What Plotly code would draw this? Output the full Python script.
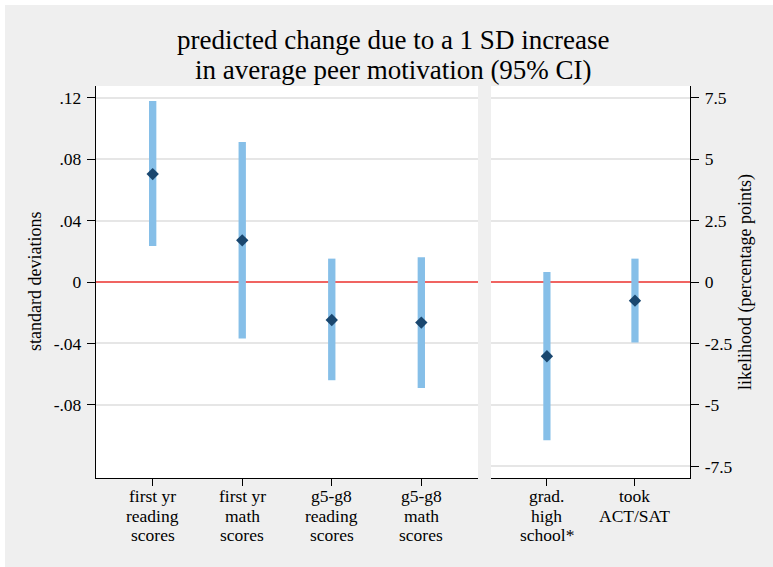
import plotly.graph_objects as go

# ---------------- data ----------------
left_labels = [["first yr", "reading", "scores"],
               ["first yr", "math", "scores"],
               ["g5-g8", "reading", "scores"],
               ["g5-g8", "math", "scores"]]
left_est = [0.0702, 0.0271, -0.0247, -0.0264]
left_lo = [0.0234, -0.0368, -0.0639, -0.0689]
left_hi = [0.1177, 0.0911, 0.0152, 0.0161]

right_labels = [["grad.", "high", "school*"],
                ["took", "ACT/SAT"]]
right_est = [-3.02, -0.76]
right_lo = [-6.43, -2.46]
right_hi = [0.41, 0.95]

left_tickvals = [0.12, 0.08, 0.04, 0, -0.04, -0.08]
left_ticktext = [".12", ".08", ".04", "0", "-.04", "-.08"]
right_tickvals = [7.5, 5, 2.5, 0, -2.5, -5, -7.5]
right_ticktext = ["7.5", "5", "2.5", "0", "-2.5", "-5", "-7.5"]

title_lines = ["predicted change due to a 1 SD increase",
               "in average peer motivation (95% CI)"]
left_ytitle = "standard deviations"
right_ytitle = "likelihood (percentage points)"

# ---------------- styles ----------------
FONT = "Liberation Serif"
BG = "#efefef"
BAR = "#86bfe8"
MARK = "#1a476f"
RED = "#f06461"
GRID = "#e6e6e6"

W, H = 773, 567
ML, MR, MT, MB = 96, 83, 86, 89
PW = W - ML - MR
PH = H - MT - MB

lx = list(range(1, len(left_est) + 1))
rx = list(range(1, len(right_est) + 1))

fig = go.Figure()

fig.add_trace(go.Bar(x=lx, y=[h - l for h, l in zip(left_hi, left_lo)], base=left_lo,
                     width=0.082, marker=dict(color=BAR, line=dict(width=0)),
                     xaxis="x", yaxis="y", hoverinfo="skip", showlegend=False))
fig.add_trace(go.Scatter(x=lx, y=left_est, mode="markers",
                         marker=dict(symbol="diamond", size=9.5, color=MARK, line=dict(width=0)),
                         xaxis="x", yaxis="y", showlegend=False))
fig.add_trace(go.Bar(x=rx, y=[h - l for h, l in zip(right_hi, right_lo)], base=right_lo,
                     width=0.082, marker=dict(color=BAR, line=dict(width=0)),
                     xaxis="x2", yaxis="y2", hoverinfo="skip", showlegend=False))
fig.add_trace(go.Scatter(x=rx, y=right_est, mode="markers",
                         marker=dict(symbol="diamond", size=9.5, color=MARK, line=dict(width=0)),
                         xaxis="x2", yaxis="y2", showlegend=False))

tickfont = dict(family=FONT, size=17.5, color="black")

xcommon = dict(showgrid=False, zeroline=False, showline=True, linecolor="black", linewidth=1.3,
               ticks="outside", ticklen=7, tickcolor="black", tickwidth=1.2,
               showticklabels=False, fixedrange=True)
ycommon = dict(showgrid=True, gridcolor=GRID, gridwidth=1.5,
               zeroline=True, zerolinecolor=RED, zerolinewidth=1.6,
               showline=True, linecolor="black", linewidth=1.3,
               ticks="outside", ticklen=8, tickcolor="black", tickwidth=1.2,
               tickfont=tickfont, ticklabelstandoff=2, fixedrange=True)

left_end = (478 - ML) / PW
right_start = (491 - ML) / PW

fig.update_layout(
    width=W, height=H,
    margin=dict(l=ML, r=MR, t=MT, b=MB, autoexpand=False),
    paper_bgcolor=BG, plot_bgcolor="white",
    barmode="overlay",
    xaxis=dict(domain=[0, left_end], range=[0.367, 4.633], tickvals=lx, anchor="y", **xcommon),
    xaxis2=dict(domain=[right_start, 1], range=[0.365, 2.625], tickvals=rx, anchor="y2", **xcommon),
    yaxis=dict(domain=[0, 1], range=[-0.1275, 0.1275], tickvals=left_tickvals,
               ticktext=left_ticktext, anchor="x", side="left", **ycommon),
    yaxis2=dict(domain=[0, 1], range=[-7.97, 7.97], tickvals=right_tickvals,
                ticktext=right_ticktext, anchor="x2", side="right", **ycommon),
)

annotations = []
# title lines
for i, line in enumerate(title_lines):
    annotations.append(dict(text=line, xref="paper", yref="paper", x=0.5, y=1,
                            xanchor="center", yanchor="top", yshift=62.7 - 30 * i,
                            showarrow=False, font=dict(family=FONT, size=27, color="black")))
# category labels
label_font = dict(family=FONT, size=17.5, color="black")
for xa, xs, labs in (("x", lx, left_labels), ("x2", rx, right_labels)):
    for xv, lines in zip(xs, labs):
        for j, line in enumerate(lines):
            annotations.append(dict(text=line, xref=xa, yref="paper", x=xv, y=0,
                                    xanchor="center", yanchor="top", yshift=-7 - 19.5 * j,
                                    borderpad=0, showarrow=False, font=label_font))
# axis titles
title_font = dict(family=FONT, size=18, color="black")
annotations.append(dict(text=left_ytitle, xref="paper", yref="paper",
                        x=(35 - ML) / PW, y=0.5, xanchor="center", yanchor="middle",
                        textangle=-90, showarrow=False, font=title_font))
annotations.append(dict(text=right_ytitle, xref="paper", yref="paper",
                        x=(745 - ML) / PW, y=0.5, xanchor="center", yanchor="middle",
                        textangle=-90, showarrow=False, font=title_font))
fig.update_layout(annotations=annotations)

# thin white page edges (top and left)
fig.add_shape(type="rect", xref="paper", yref="paper", layer="above",
              x0=-ML / PW - 0.01, x1=(5 - ML) / PW, y0=-MB / PH - 0.01, y1=1 + MT / PH + 0.01,
              fillcolor="white", line=dict(width=0))
fig.add_shape(type="rect", xref="paper", yref="paper", layer="above",
              x0=-ML / PW - 0.01, x1=1 + MR / PW + 0.01, y0=1 + (MT - 5) / PH, y1=1 + MT / PH + 0.01,
              fillcolor="white", line=dict(width=0))

fig.write_html("out.html")
